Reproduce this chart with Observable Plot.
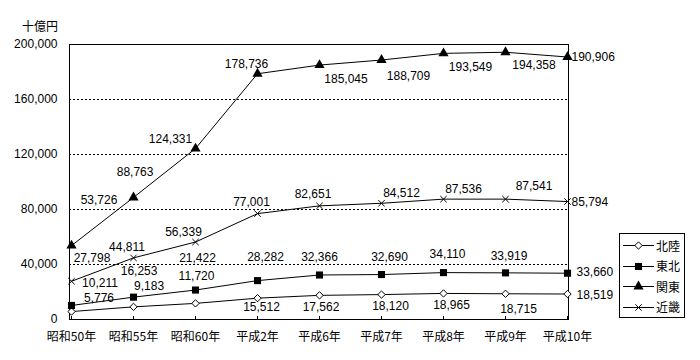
<!DOCTYPE html>
<html>
<head>
<meta charset="utf-8">
<script src="https://cdn.jsdelivr.net/npm/d3@7"></script>
<script src="https://cdn.jsdelivr.net/npm/@observablehq/plot@0.6"></script>
<style>
  html, body { margin: 0; padding: 0; background: #fff; }
  #wrap { position: relative; width: 700px; height: 360px; font-family: "Noto Sans CJK JP", sans-serif; color: #000; }
  #wrap svg.plot { position: absolute; left: 0; top: 0; }
  #unit { position: absolute; left: 22px; top: 19px; font-size: 12px; line-height: 14px; }
  #legend { position: absolute; left: 619px; top: 233px; width: 66px; height: 85px; border: 1px solid #000; background: #fff; box-sizing: border-box; }
  .lg-row { position: absolute; left: 3px; height: 16px; display: flex; align-items: center; font-size: 12px; }
  .lg-row span { margin-left: 2px; }
</style>
</head>
<body>
<div id="wrap"></div>
<script>
// ---- data ----
const categories = ["昭和50年", "昭和55年", "昭和60年", "平成2年", "平成6年", "平成7年", "平成8年", "平成9年", "平成10年"];
const seriesNames = ["北陸", "東北", "関東", "近畿"];
const hokuriku = [5776, 9183, 11720, 15512, 17562, 18120, 18965, 18715, 18519];
const tohoku = [10211, 16253, 21422, 28282, 32366, 32690, 34110, 33919, 33660];
const kanto = [53726, 88763, 124331, 178736, 185045, 188709, 193549, 194358, 190906];
const kinki = [27798, 44811, 56339, 77001, 82651, 84512, 87536, 87541, 85794];
const yTicks = [0, 40000, 80000, 120000, 160000, 200000];
const gridTicks = [40000, 80000, 120000, 160000];
const unitLabel = "十億円";

// ---- label placement (offsets in px from the point) ----
const labelOffsets = {
  "北陸": [[27.5, -13.5], [15.6, -20.5], [1, -27], [4, 9], [1.5, 12], [9, 12], [8, 12], [13, 15], [9, 1.5]],
  "東北": [[28.5, -22.5], [5.6, -25.5], [2, -32], [8, -23], [0, -17.5], [8, -17], [4, -18], [3.5, -16.5], [9, -1.5]],
  "関東": [[27.5, -45], [1.6, -25], [-25, -9], [-11, -10], [26.5, 14.4], [27, 16.5], [27, 14], [28.5, 13], [4, 0.5]],
  "近畿": [[20.5, -23], [-6.5, -11], [-12, -9.5], [-6, -11], [-6.5, -12], [20, -10], [20, -10], [28.5, -12.6], [4, 1]]
};

// ---- styles ----
const symbolStyle = {
  "北陸": {symbol: "diamond2", fill: "white", stroke: "black", r: 3.3},
  "東北": {symbol: "square", fill: "black", stroke: "none", r: 4.0},
  "関東": {symbol: "triangle", fill: "black", stroke: "none", r: 3.8},
  "近畿": {symbol: "times", fill: "none", stroke: "black", r: 3.0}
};

const valuesBySeries = {"北陸": hokuriku, "東北": tohoku, "関東": kanto, "近畿": kinki};
const rows = seriesNames.flatMap(s => categories.map((c, i) => ({series: s, cat: c, i, value: valuesBySeries[s][i]})));

const fmt = d3.format(",");
const font = "Noto Sans CJK JP";
const numFont = "Liberation Sans";
const frameHeight = 360 - 44 - 41;
const tickLen = 3;

const marks = [
  Plot.ruleY(gridTicks, {stroke: "black", strokeWidth: 1, strokeDasharray: "2,2", shapeRendering: "crispEdges"}),
  Plot.frame({stroke: "black", shapeRendering: "crispEdges"}),
  Plot.axisY({ticks: yTicks, tickFormat: fmt, tickSize: 0, tickPadding: 12, label: null, fontSize: 12, fontFamily: numFont}),
  Plot.axisX({tickSize: 0, tickPadding: 13, label: null, fontSize: 12}),
  Plot.ruleX(categories, {x: d => d, insetTop: frameHeight - tickLen, stroke: "black", shapeRendering: "crispEdges"})
];

for (const s of seriesNames) {
  const data = rows.filter(r => r.series === s);
  marks.push(Plot.line(data, {x: "cat", y: "value", stroke: "black", strokeWidth: 1}));
  const st = symbolStyle[s];
  marks.push(Plot.dot(data, {x: "cat", y: "value", symbol: () => st.symbol, fill: st.fill, stroke: st.stroke, r: st.r, strokeWidth: 1}));
  data.forEach((d, i) => {
    const [dx, dy] = labelOffsets[s][i];
    const last = i === categories.length - 1;
    marks.push(Plot.text([d], {
      x: "cat", y: "value", text: r => fmt(r.value),
      dx, dy, textAnchor: last ? "start" : "middle", fontSize: 12, fontFamily: numFont, fill: "black"
    }));
  });
}

const chart = Plot.plot({
  width: 700,
  height: 360,
  marginLeft: 69,
  marginRight: 132,
  marginTop: 44,
  marginBottom: 41,
  style: {fontFamily: font, fontSize: "12px", background: "white", color: "black"},
  x: {type: "point", domain: categories, padding: 0},
  y: {domain: [0, 200000]},
  symbol: {type: "identity"},
  marks
});
chart.classList.add("plot");

const wrap = document.getElementById("wrap");
wrap.appendChild(chart);

const unit = document.createElement("div");
unit.id = "unit";
unit.textContent = unitLabel;
wrap.appendChild(unit);

// legend
const legend = document.createElement("div");
legend.id = "legend";
const symMap = {diamond2: d3.symbolDiamond2, square: d3.symbolSquare, triangle: d3.symbolTriangle, times: d3.symbolTimes};
seriesNames.forEach((s, k) => {
  const st = symbolStyle[s];
  const row = document.createElement("div");
  row.className = "lg-row";
  row.style.top = (3 + k * 20.5) + "px";
  const svg = d3.create("svg").attr("width", 31).attr("height", 14);
  svg.append("line").attr("x1", 0).attr("x2", 31).attr("y1", 7.5).attr("y2", 7.5).attr("stroke", "black").attr("shape-rendering", "crispEdges");
  svg.append("path")
    .attr("transform", "translate(15.5,7.5)")
    .attr("d", d3.symbol(symMap[st.symbol], Math.PI * st.r * st.r)())
    .attr("fill", st.fill).attr("stroke", st.stroke);
  row.appendChild(svg.node());
  const t = document.createElement("span");
  t.textContent = s;
  row.appendChild(t);
  legend.appendChild(row);
});
wrap.appendChild(legend);
</script>
</body>
</html>
